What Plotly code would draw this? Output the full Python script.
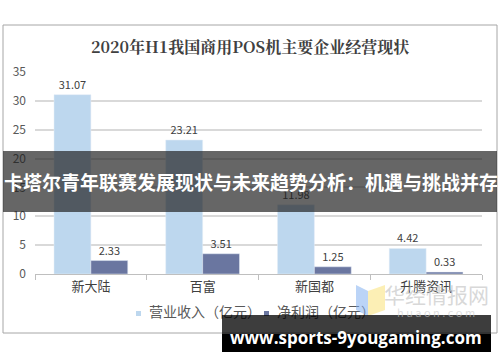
import plotly.graph_objects as go

categories = ["新大陆", "百富", "新国都", "升腾资讯"]
revenue = [31.07, 23.21, 11.98, 4.42]
profit = [2.33, 3.51, 1.25, 0.33]
series_names = ["营业收入（亿元）", "净利润（亿元）"]
series_colors = ["#BDD7EE", "#6A76A0"]
y_ticks = [0, 5, 10, 15, 20, 25, 30, 35]
title_text = "2020年H1我国商用POS机主要企业经营现状"
banner_text = "卡塔尔青年联赛发展现状与未来趋势分析：机遇与挑战并存"
site_text = "www.sports-9yougaming.com"

W, H = 500, 362
L, R, T, B = 35, 18, 72, 88
PW, PH = W - L - R, H - T - B

def px(x):
    return (x - L) / PW

def py(y):
    return (H - B - y) / PH

font = "Noto Sans CJK SC, Noto Sans, sans-serif"

fig = go.Figure()
for name, vals, col in zip(series_names, [revenue, profit], series_colors):
    fig.add_bar(x=categories, y=vals, name=name, marker_color=col,
                text=[f"{v:.2f}" for v in vals], textposition="outside",
                textfont=dict(size=11, color="#404040"), cliponaxis=False)

shapes = []
# outer frame
shapes.append(dict(type="rect", xref="paper", yref="paper", x0=px(3), x1=px(497), y0=py(25), y1=py(333),
                   line=dict(color="#A6A6A6", width=1), fillcolor="rgba(0,0,0,0)", layer="below"))
# manual legend (markers + labels as shape labels so the site box can cover them)
leg = [(136, 143, 246), (264, 271, 362)]
for (mx, tx0, tx1), name, col in zip(leg, series_names, series_colors):
    shapes.append(dict(type="rect", xref="paper", yref="paper", x0=px(mx), x1=px(mx + 5),
                       y0=py(316), y1=py(311), fillcolor=col, line=dict(width=0), layer="above"))
    shapes.append(dict(type="rect", xref="paper", yref="paper", x0=px(tx0), x1=px(tx1),
                       y0=py(322), y1=py(304), fillcolor="rgba(0,0,0,0)", line=dict(width=0), layer="above",
                       label=dict(text=name, textposition="middle left",
                                  font=dict(size=14, color="#595959", family=font))))
# watermark logo
shapes.append(dict(type="path", xref="paper", yref="paper",
                   path=f"M {px(356)},{py(285)} L {px(368)},{py(291)} L {px(368)},{py(316)} L {px(356)},{py(310)} Z",
                   fillcolor="rgba(120,170,240,0.5)", line=dict(width=0), layer="above"))
shapes.append(dict(type="path", xref="paper", yref="paper",
                   path=f"M {px(368)},{py(291)} L {px(385)},{py(285)} L {px(385)},{py(310)} L {px(368)},{py(316)} Z",
                   fillcolor="rgba(250,225,120,0.55)", line=dict(width=0), layer="above"))
# middle banner
shapes.append(dict(type="rect", xref="paper", yref="paper", x0=px(3), x1=px(497), y0=py(151), y1=py(212),
                   fillcolor="rgba(30,30,30,0.68)", line=dict(width=0), layer="above"))
# bottom site box
shapes.append(dict(type="rect", xref="paper", yref="paper", x0=px(222), x1=px(491), y0=py(315), y1=py(334),
                   fillcolor="rgba(0,0,0,0.76)", line=dict(width=0), layer="above"))
shapes.append(dict(type="rect", xref="paper", yref="paper", x0=px(222), x1=px(491), y0=py(334), y1=py(352),
                   fillcolor="#000000", line=dict(width=0), layer="above"))

def ann(text, x, y, size, color, family=font):
    return dict(text=text, x=px(x), y=py(y), xref="paper", yref="paper", showarrow=False,
                xanchor="center", yanchor="middle", font=dict(size=size, color=color, family=family))

annotations = [
    ann(f"<b>{title_text}</b>", 250, 46, 16, "#404040", "Noto Serif CJK SC, " + font),
    ann("华经情报网", 436, 294, 21, "rgba(190,190,190,0.6)"),
    ann("h u a o n . c o m", 436, 312, 11, "rgba(200,200,200,0.6)"),
    ann(f"<b>{banner_text}</b>", 251, 181, 19, "#FFFFFF"),
    ann(f"<b>{site_text}</b>", 356, 337, 17, "#FFFFFF", "Open Sans, DejaVu Sans, sans-serif"),
]

fig.update_layout(
    width=W, height=H, margin=dict(l=L, r=R, t=T, b=B),
    paper_bgcolor="white", plot_bgcolor="white",
    barmode="group", bargap=0.34, bargroupgap=0,
    font=dict(family=font, color="#595959"),
    showlegend=False,
    shapes=shapes, annotations=annotations,
)
fig.update_xaxes(showline=True, linecolor="#BFBFBF", linewidth=1, ticks="outside", tickson="boundaries",
                 ticklen=5, tickcolor="#BFBFBF", tickfont=dict(size=13, color="#404040"), showgrid=False)
fig.update_yaxes(range=[0, 35], tickvals=y_ticks, showgrid=True, gridcolor="#D9D9D9", gridwidth=1.5,
                 zeroline=False, tickfont=dict(size=12, color="#595959"), ticks="", ticklabelstandoff=8)

fig.write_html("out.html")
